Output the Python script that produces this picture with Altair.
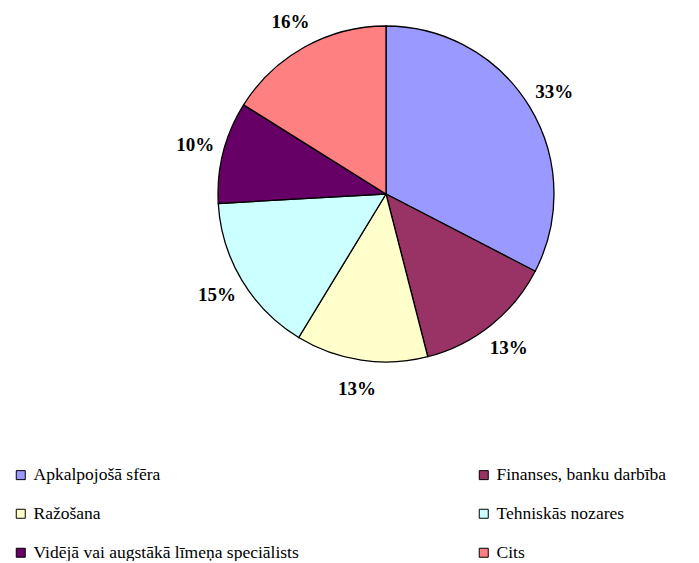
import altair as alt
import pandas as pd

categories = ["Apkalpojošā sfēra", "Finanses, banku darbība", "Ražošana",
              "Tehniskās nozares", "Vidējā vai augstākā līmeņa speciālists", "Cits"]
values = [32.6, 13.4, 12.7, 15.4, 9.8, 16.1]
labels = ["33%", "13%", "13%", "15%", "10%", "16%"]
colors = ["#9999FF", "#993366", "#FFFFCC", "#CCFFFF", "#660066", "#FF8080"]

df = pd.DataFrame({"cat": categories, "val": values, "lab": labels,
                   "ord": list(range(len(categories)))})

FONT = "Liberation Serif"
CX, CY = 378, 186

base = alt.Chart(df).encode(
    theta=alt.Theta("val:Q", stack=True),
    order=alt.Order("ord:Q"),
)

arcs = base.mark_arc(outerRadius=168, stroke="black", strokeWidth=1.3).encode(
    x=alt.value(CX), y=alt.value(CY),
    color=alt.Color("cat:N", scale=alt.Scale(domain=categories, range=colors),
                    sort=categories,
                    legend=alt.Legend(orient="none", legendX=4, legendY=458,
                                      direction="horizontal", columns=2,
                                      title=None, symbolType="square",
                                      symbolSize=81, symbolStrokeColor="black",
                                      symbolStrokeWidth=1, labelFont=FONT,
                                      labelFontSize=17.5, labelColor="black",
                                      labelOffset=4, rowPadding=20,
                                      columnPadding=176, labelLimit=400)),
)

texts = base.mark_text(radius=197, font=FONT, fontSize=19, fontWeight="bold",
                       color="black").encode(
    x=alt.value(CX), y=alt.value(CY),
    text="lab:N",
)

chart = (arcs + texts).properties(width=683, height=553, padding=0,
                                 autosize=alt.AutoSizeParams(type="none")
).configure_view(stroke=None)

chart.save("out.html", embed_options={"renderer": "svg", "actions": False})
